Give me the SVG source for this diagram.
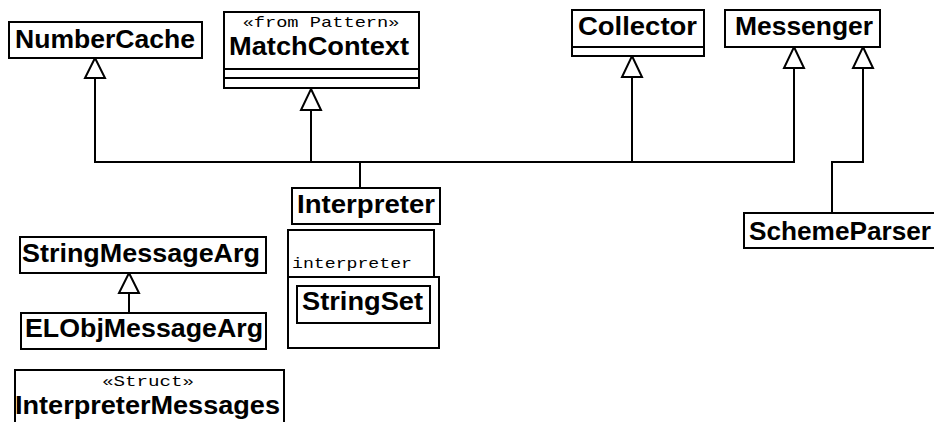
<svg xmlns="http://www.w3.org/2000/svg" width="934" height="422" viewBox="0 0 934 422">
  <style>
    .box { fill: #ffffff; stroke: #000000; stroke-width: 2; }
    .sep { stroke: #000000; stroke-width: 2; }
    .name { font-family: "Liberation Sans", Arial, sans-serif; font-weight: bold; font-size: 25px; fill: #000000; }
    .stereo { font-family: "Liberation Mono", "Courier New", monospace; font-size: 15px; fill: #000000; }
    .conn { fill: none; stroke: #000000; stroke-width: 2; }
    .head { fill: #ffffff; stroke: #000000; stroke-width: 2; stroke-linejoin: miter; }
  </style>
  <rect width="934" height="422" fill="#ffffff"/>

  <!-- generalization connectors -->
  <g id="connectors">
    <path class="conn" d="M95,78 V162 H794 V68"/>
    <path class="conn" d="M311,110 V162"/>
    <path class="conn" d="M632,77 V162"/>
    <path class="conn" d="M360,162 V188"/>
    <path class="conn" d="M863,68 V162 H832 V213"/>
    <path class="conn" d="M129,293 V313"/>
    <!-- hollow inheritance heads -->
    <polygon class="head" points="95,58 105,78 85,78"/>
    <polygon class="head" points="311,89 321,110 301,110"/>
    <polygon class="head" points="632,56 642,77 622,77"/>
    <polygon class="head" points="794,47 804,68 784,68"/>
    <polygon class="head" points="863,47 873,68 853,68"/>
    <polygon class="head" points="129,273 139,293 119,293"/>
  </g>

  <g id="NumberCache">
    <rect class="box" x="9" y="22" width="193" height="36"/>
    <text class="name" x="15" y="48" textLength="180" lengthAdjust="spacingAndGlyphs">NumberCache</text>
  </g>

  <g id="MatchContext">
    <rect class="box" x="224" y="12" width="195" height="76"/>
    <line class="sep" x1="224" y1="69" x2="419" y2="69"/>
    <line class="sep" x1="224" y1="78" x2="419" y2="78"/>
    <text class="stereo" x="321" y="27" text-anchor="middle" textLength="157" lengthAdjust="spacingAndGlyphs">«from Pattern»</text>
    <text class="name" x="229" y="55" textLength="180" lengthAdjust="spacingAndGlyphs">MatchContext</text>
  </g>

  <g id="Collector">
    <rect class="box" x="572" y="10" width="132" height="46"/>
    <line class="sep" x1="572" y1="47" x2="704" y2="47"/>
    <text class="name" x="578" y="35" textLength="119" lengthAdjust="spacingAndGlyphs">Collector</text>
  </g>

  <g id="Messenger">
    <rect class="box" x="725" y="10" width="155" height="37"/>
    <text class="name" x="735" y="35" textLength="138" lengthAdjust="spacingAndGlyphs">Messenger</text>
  </g>

  <g id="Interpreter">
    <rect class="box" x="292" y="188" width="148" height="36"/>
    <text class="name" x="297" y="213" textLength="138" lengthAdjust="spacingAndGlyphs">Interpreter</text>
  </g>

  <g id="interpreter-package">
    <rect class="box" x="288" y="230" width="146" height="47"/>
    <rect class="box" x="288" y="277" width="151" height="71"/>
    <text class="stereo" x="292" y="268" font-size="17" textLength="120" lengthAdjust="spacingAndGlyphs">interpreter</text>
    <g id="StringSet">
      <rect class="box" x="297" y="286" width="133" height="37"/>
      <text class="name" x="302" y="310" textLength="121" lengthAdjust="spacingAndGlyphs">StringSet</text>
    </g>
  </g>

  <g id="SchemeParser">
    <rect class="box" x="744" y="213" width="200" height="35"/>
    <text class="name" x="749" y="240" textLength="182" lengthAdjust="spacingAndGlyphs">SchemeParser</text>
  </g>

  <g id="StringMessageArg">
    <rect class="box" x="20" y="237" width="246" height="36"/>
    <text class="name" x="22" y="262" textLength="238" lengthAdjust="spacingAndGlyphs">StringMessageArg</text>
  </g>

  <g id="ELObjMessageArg">
    <rect class="box" x="21" y="313" width="245" height="36"/>
    <text class="name" x="25" y="337" textLength="238" lengthAdjust="spacingAndGlyphs">ELObjMessageArg</text>
  </g>

  <g id="InterpreterMessages">
    <rect class="box" x="15" y="370" width="269" height="70"/>
    <text class="stereo" x="148" y="386" text-anchor="middle" textLength="92" lengthAdjust="spacingAndGlyphs">«Struct»</text>
    <text class="name" x="15" y="414" textLength="265" lengthAdjust="spacingAndGlyphs">InterpreterMessages</text>
  </g>
</svg>
